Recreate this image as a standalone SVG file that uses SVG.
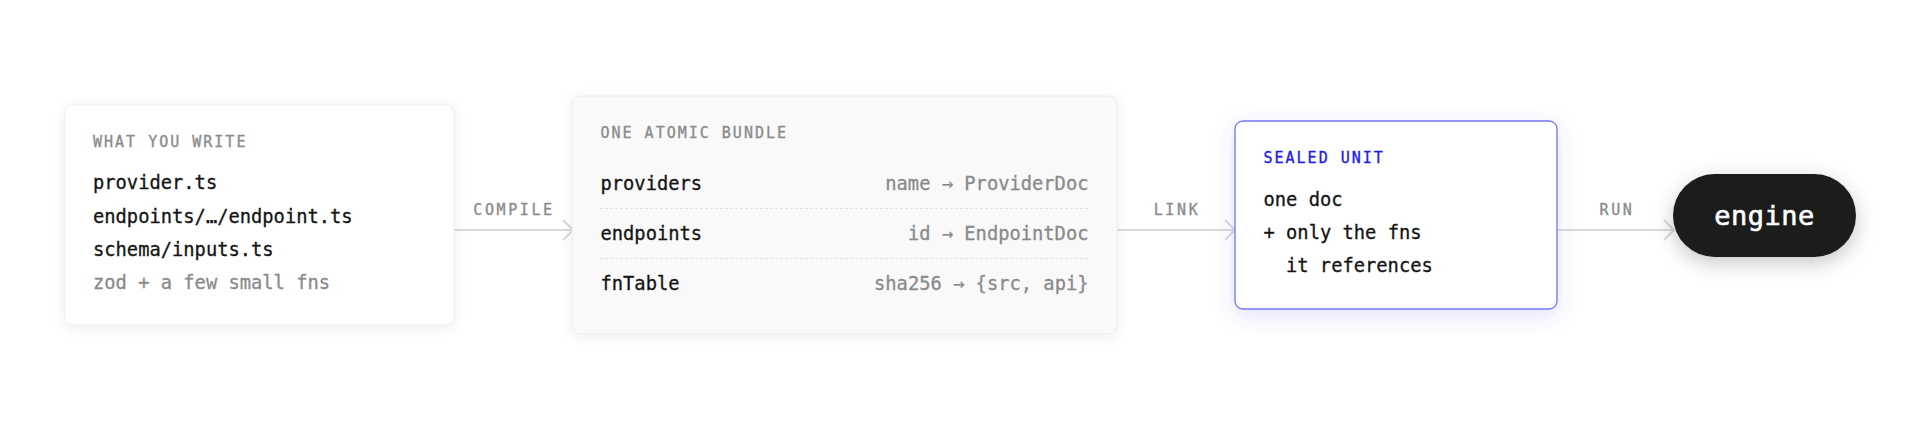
<svg xmlns="http://www.w3.org/2000/svg" width="1920" height="430" viewBox="0 0 1920 430">
<defs>
<style>
text{font-family:"DejaVu Sans Mono","Liberation Mono",monospace;}
.lbl{font-size:15px;letter-spacing:2px;fill:#8c8c8c;stroke:#8c8c8c;stroke-width:0.35px;}
.clbl{font-size:15px;letter-spacing:2.6px;fill:#8c8c8c;stroke:#8c8c8c;stroke-width:0.35px;text-anchor:middle;}
.t{font-size:18.75px;fill:#141414;stroke:#141414;stroke-width:0.3px;}
.g{font-size:18.75px;fill:#8a8a8a;stroke:#8a8a8a;stroke-width:0.3px;}
.r{font-size:18.75px;fill:#8a8a8a;stroke:#8a8a8a;stroke-width:0.3px;text-anchor:end;}
.blue{font-size:15px;letter-spacing:2px;fill:#1d1de6;stroke:#1d1de6;stroke-width:0.35px;}
.conn{stroke:#d9d9d9;stroke-width:2;fill:none;}
.div{stroke:#e2e2e2;stroke-width:1;stroke-dasharray:3 2;}
</style>
<filter id="sh1" x="-20%" y="-20%" width="140%" height="140%">
<feDropShadow dx="0" dy="2" stdDeviation="6" flood-color="#000" flood-opacity="0.07"/>
</filter>
<filter id="sh3" x="-20%" y="-20%" width="140%" height="150%">
<feDropShadow dx="0" dy="6" stdDeviation="10" flood-color="#4b4bff" flood-opacity="0.16"/>
</filter>
<filter id="sh4" x="-30%" y="-40%" width="160%" height="200%">
<feDropShadow dx="0" dy="6" stdDeviation="10" flood-color="#000" flood-opacity="0.22"/>
</filter>
<marker id="chev" viewBox="0 0 12 22" refX="11" refY="11" markerWidth="12" markerHeight="22" markerUnits="userSpaceOnUse" orient="auto">
<path d="M1,1 L11,11 L1,21" stroke="#d9d9d9" stroke-width="2" fill="none"/>
</marker>
</defs>
<rect width="1920" height="430" fill="#ffffff"/>

<g id="connectors">
<line class="conn" x1="454" y1="230" x2="573" y2="230" marker-end="url(#chev)"/>
<text class="clbl" x="514" y="215">COMPILE</text>
<line class="conn" x1="1117" y1="230" x2="1235" y2="230" marker-end="url(#chev)"/>
<text class="clbl" x="1177" y="215">LINK</text>
<line class="conn" x1="1557" y1="230" x2="1674" y2="230" marker-end="url(#chev)"/>
<text class="clbl" x="1617" y="215">RUN</text>
</g>

<g id="node-write">
<rect x="65" y="105" width="389" height="220" rx="7" fill="#ffffff" stroke="#ededed" stroke-width="1" filter="url(#sh1)"/>
<text class="lbl" x="93" y="146.5">WHAT YOU WRITE</text>
<text class="t" x="93" y="189">provider.ts</text>
<text class="t" x="93" y="222.5">endpoints/…/endpoint.ts</text>
<text class="t" x="93" y="256">schema/inputs.ts</text>
<text class="g" x="93" y="289">zod + a few small fns</text>
</g>

<g id="node-bundle">
<rect x="572" y="96" width="545" height="238" rx="8" fill="#f9f9f9" stroke="#ececec" stroke-width="1" filter="url(#sh1)"/>
<text class="lbl" x="600.5" y="138">ONE ATOMIC BUNDLE</text>
<text class="t" x="600.5" y="190">providers</text>
<text class="r" x="1088.5" y="190">name → ProviderDoc</text>
<line class="div" x1="600" y1="208.5" x2="1089" y2="208.5"/>
<text class="t" x="600.5" y="240">endpoints</text>
<text class="r" x="1088.5" y="240">id → EndpointDoc</text>
<line class="div" x1="600" y1="258.5" x2="1089" y2="258.5"/>
<text class="t" x="600.5" y="290">fnTable</text>
<text class="r" x="1088.5" y="290">sha256 → {src, api}</text>
</g>

<g id="node-sealed">
<rect x="1235" y="121" width="322" height="188" rx="8" fill="#ffffff" stroke="#6f76f6" stroke-width="1.3" filter="url(#sh3)"/>
<text class="blue" x="1263.5" y="162.5">SEALED UNIT</text>
<text class="t" x="1263.5" y="206">one doc</text>
<text class="t" x="1263.5" y="239">+ only the fns</text>
<text class="t" x="1286" y="272">it references</text>
</g>

<g id="node-engine">
<rect x="1673" y="174" width="183" height="83" rx="41.5" fill="#1e1e1e" filter="url(#sh4)"/>
<text x="1764.5" y="225" font-size="27" fill="#ffffff" stroke="#ffffff" stroke-width="0.6" text-anchor="middle" letter-spacing="0.5">engine</text>
</g>
</svg>
